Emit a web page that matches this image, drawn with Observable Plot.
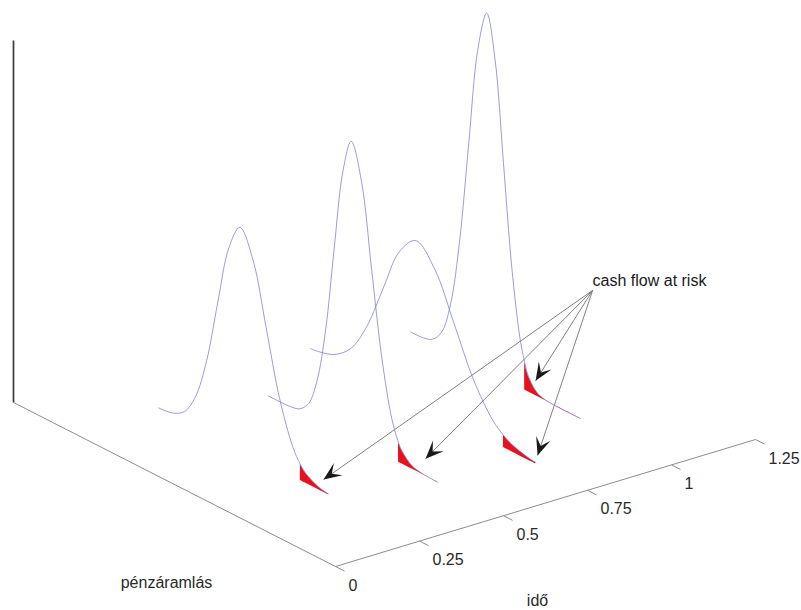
<!DOCTYPE html>
<html>
<head>
<meta charset="utf-8">
<script src="https://cdn.jsdelivr.net/npm/d3@7"></script>
<script src="https://cdn.jsdelivr.net/npm/@observablehq/plot@0.6"></script>
<style>
  html, body { margin: 0; padding: 0; background: #fff; }
  svg { display: block; }
</style>
</head>
<body>
<div id="chart"></div>
<script>
// ---- data ----
const seriesTimes = [0.25, 0.5, 0.75, 1];            // idő of each distribution
const cashFlow = [                                     // pénzáramlás sample positions
  [0.190, 0.235, 0.270, 0.304, 0.339, 0.373, 0.408, 0.442, 0.483, 0.524, 0.565, 0.606, 0.630, 0.647, 0.688, 0.717],
  [0.270, 0.342, 0.368, 0.395, 0.421, 0.448, 0.474, 0.501, 0.527, 0.559, 0.590, 0.622, 0.653, 0.674, 0.685, 0.716, 0.748, 0.795],
  [0.140, 0.166, 0.216, 0.266, 0.316, 0.366, 0.416, 0.466, 0.526, 0.586, 0.646, 0.706, 0.739, 0.766, 0.826, 0.839],
  [0.190, 0.230, 0.258, 0.286, 0.314, 0.342, 0.370, 0.398, 0.426, 0.452, 0.478, 0.504, 0.530, 0.544, 0.556, 0.582, 0.608, 0.717]
];
const density = [                                      // height of each curve
  [0.01, 0.07, 0.27, 0.83, 1.99, 3.73, 5.42, 6.14, 5.42, 3.73, 1.99, 0.83, 0.44, 0.27, 0.07, 0.02],
  [0.00, 0.02, 0.09, 0.36, 1.11, 2.66, 4.98, 7.24, 8.20, 7.24, 4.98, 2.66, 1.11, 0.54, 0.36, 0.09, 0.02, 0.00],
  [0.02, 0.05, 0.20, 0.60, 1.45, 2.72, 3.95, 4.48, 3.95, 2.72, 1.45, 0.60, 0.34, 0.20, 0.05, 0.04],
  [0.00, 0.02, 0.11, 0.43, 1.34, 3.21, 5.99, 8.72, 9.88, 8.72, 5.99, 3.21, 1.34, 0.77, 0.43, 0.11, 0.02, 0.00]
];
const riskThresholds = [0.630, 0.674, 0.739, 0.544];   // start of the red "cash flow at risk" tail
const timeTicks = [0, 0.25, 0.5, 0.75, 1, 1.25];
const timeTickLabels = ["0", "0.25", "0.5", "0.75", "1", "1.25"];
const cashFlowExtent = [0, 1];
const densityMax = 10;
const arrowCashFlow = [0.702, 0.758, 0.845, 0.578];    // arrow targets near each red tail
const arrowDensity = [0.35, 0.48, 0.26, 0.41];
const annotationText = "cash flow at risk";
const annotationAnchor = [0.755, 1, 3.71];             // [pénzáramlás, idő, height]
const axisTitles = ["pénzáramlás", "idő"];

// ---- oblique 3-D view (axis directions on screen) ----
const CF_DIR = [322, 164];     // one unit of pénzáramlás
const T_DIR = [336, -101.6];   // one unit of idő
const Z_UNIT = 36.2;           // one unit of height
const proj = (cf, t, z) => ({u: cf * CF_DIR[0] + t * T_DIR[0], v: z * Z_UNIT - cf * CF_DIR[1] - t * T_DIR[1]});

const curvePts = seriesTimes.flatMap((t, i) =>
  cashFlow[i].map((c, j) => {
    const p = proj(c, t, density[i][j]);
    const f = proj(c, t, 0);
    return {series: i, c, u: p.u, v: p.v, vFloor: f.v};
  })
);
const redPts = curvePts.filter(d => d.c >= riskThresholds[d.series] - 1e-9);

const seg = (a, b) => ({a, b});
const zAxis = [seg(proj(cashFlowExtent[0], 0, 0), proj(cashFlowExtent[0], 0, densityMax))];
const floorAxes = [
  seg(proj(cashFlowExtent[0], 0, 0), proj(cashFlowExtent[1], 0, 0)),
  seg(proj(cashFlowExtent[1], 0, 0), proj(cashFlowExtent[1], timeTicks[timeTicks.length - 1], 0))
];
const tickLen = 0.028;
const ticks = timeTicks.map((t, i) => ({...seg(proj(cashFlowExtent[1], t, 0), proj(cashFlowExtent[1] + tickLen, t, 0)), label: timeTickLabels[i]}));

const anchor = proj(...annotationAnchor);
const arrows = seriesTimes.map((t, i) => {
  const tip = proj(arrowCashFlow[i], t, arrowDensity[i]);
  const du = tip.u - anchor.u, dv = tip.v - anchor.v;
  return {a: anchor, b: tip, rot: Math.atan2(du, dv) * 180 / Math.PI};
});

const titles = [
  {p: proj(0.5, 0, 0), text: axisTitles[0]},
  {p: proj(cashFlowExtent[1], 0.625, 0), text: axisTitles[1]}
];

// swept-back filled arrowhead, tip at origin pointing up
const arrowHead = {
  draw(ctx) {
    ctx.moveTo(0, 0);
    ctx.lineTo(7.5, 18);
    ctx.lineTo(0, 10);
    ctx.lineTo(-7.5, 18);
    ctx.closePath();
  }
};

const X = d => d.a.u, Y = d => d.a.v, X2 = d => d.b.u, Y2 = d => d.b.v;

const chart = Plot.plot({
  width: 801,
  height: 610,
  margin: 0,
  x: {domain: [-13, 788], range: [0, 801], axis: null},
  y: {domain: [-208, 402], range: [610, 0], axis: null},
  style: {fontFamily: "'Liberation Sans', Arial, Helvetica, sans-serif", fontSize: "16px", background: "#fff", color: "#222"},
  marks: [
    Plot.link(zAxis, {x1: X, y1: Y, x2: X2, y2: Y2, stroke: "#3a3a3a", strokeWidth: 1.7}),
    Plot.link(floorAxes, {x1: X, y1: Y, x2: X2, y2: Y2, stroke: "#8c8c8c", strokeWidth: 1}),
    Plot.link(ticks, {x1: X, y1: Y, x2: X2, y2: Y2, stroke: "#8c8c8c", strokeWidth: 1}),
    Plot.text(ticks, {x: X, y: Y, text: "label", textAnchor: "start", dx: 13, dy: 19, fill: "#2a2a2a", fontSize: 16}),
    Plot.text(titles, {x: d => d.p.u, y: d => d.p.v, text: "text", dx: -8, dy: 98, fill: "#2a2a2a", fontSize: 16}),
    Plot.areaY(redPts, {x: "u", y1: "vFloor", y2: "v", z: "series", fill: "#e8121e", curve: "catmull-rom"}),
    Plot.line(curvePts, {x: "u", y: "v", z: "series", stroke: "#7272c8", strokeWidth: 1, strokeOpacity: 0.7, curve: "catmull-rom"}),
    Plot.link(arrows, {x1: X, y1: Y, x2: X2, y2: Y2, stroke: "#808080", strokeWidth: 1}),
    Plot.dot(arrows, {x: X2, y: Y2, symbol: arrowHead, rotate: "rot", fill: "#1a1a1a", stroke: "none", r: 5}),
    Plot.text([annotationText], {x: anchor.u, y: anchor.v, text: d => d, textAnchor: "start", dy: -10, fill: "#1a1a1a", fontSize: 16})
  ]
});
document.getElementById("chart").append(chart);
</script>
</body>
</html>
